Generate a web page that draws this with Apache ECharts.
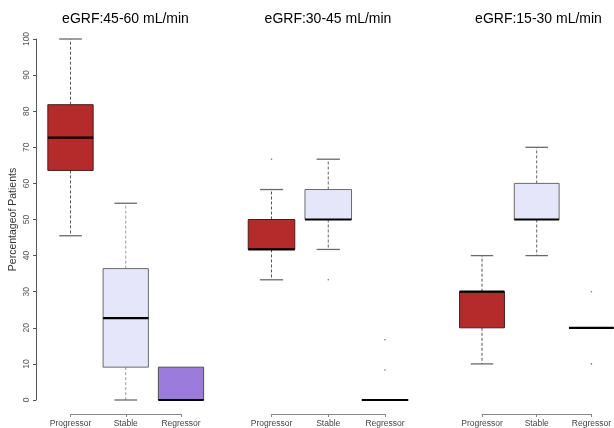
<!DOCTYPE html>
<html>
<head>
<meta charset="utf-8">
<script src="https://cdn.jsdelivr.net/npm/echarts@6/dist/echarts.min.js"></script>
<style>html,body{margin:0;padding:0;background:#fff}#c{width:614px;height:428px}</style>
</head>
<body>
<div id="c"></div>
<script>
// ---- data ----
const categories = ['Progressor', 'Stable', 'Regressor'];
const panelTitles = ['eGRF:45-60 mL/min', 'eGRF:30-45 mL/min', 'eGRF:15-30 mL/min'];
const yTitle = 'Percentageof Patients';
const yTicks = [0, 10, 20, 30, 40, 50, 60, 70, 80, 90, 100];
// each row: [lower whisker, Q1, median, Q3, upper whisker] per category
const stats45to60 = [[45.5, 63.6, 72.7, 81.8, 100], [0, 9.1, 22.7, 36.4, 54.5], [0, 0, 0, 9.1, 9.1]];
const stats30to45 = [[33.3, 41.7, 41.7, 50, 58.3], [41.7, 50, 50, 58.3, 66.7], [0, 0, 0, 0, 0]];
const stats15to30 = [[10, 20, 30, 30, 40], [40, 50, 50, 60, 70], [20, 20, 20, 20, 20]];
// outliers: [category index, value]
const outliers45to60 = [];
const outliers30to45 = [[0, 66.7], [1, 33.3], [2, 8.3], [2, 16.7]];
const outliers15to30 = [[2, 10], [2, 30]];

// ---- styles ----
const FONT = 'Liberation Sans, Arial, sans-serif';
const fills = ['#B52A2A', '#E6E6FA', '#9B7BDB'];
const borders = ['#4a1c1c', '#6a6a6a', '#505050'];
const whiskerCols = [['#555', '#9a9a9a', '#555'], ['#555', '#666', '#555'], ['#555', '#666', '#555']];
const grids = [
  { left: 70.5, width: 110.5, top: 39, height: 361 },
  { left: 271.5, width: 113.5, top: 39, height: 361 },
  { left: 482, width: 114, top: 39, height: 361 }
];
const titleX = [125.5, 328, 538.5];

const allStats = [stats45to60, stats30to45, stats15to30];
const allOut = [outliers45to60, outliers30to45, outliers15to30];

function makeRender(panel) {
  return function (params, api) {
    const x = api.value(0);
    const ci = Math.round(x);
    const lo = api.value(1), q1 = api.value(2), med = api.value(3), q3 = api.value(4), hi = api.value(5);
    const pLo = api.coord([x, lo]), pQ1 = api.coord([x, q1]), pMed = api.coord([x, med]);
    const pQ3 = api.coord([x, q3]), pHi = api.coord([x, hi]);
    let band = api.size([1, 0])[0];
    if (!band || !isFinite(band)) band = 55.5;
    const half = band * 0.41;
    const stp = half * 0.5;
    const cx = pMed[0];
    const wc = whiskerCols[panel][ci];
    const children = [];
    if (hi > q3) {
      children.push({ type: 'line', shape: { x1: cx, y1: pQ3[1], x2: cx, y2: pHi[1] }, style: { stroke: wc, lineWidth: 1, lineDash: [3, 2] } });
      children.push({ type: 'line', shape: { x1: cx - stp, y1: pHi[1], x2: cx + stp, y2: pHi[1] }, style: { stroke: '#6a6a6a', lineWidth: 1.3 } });
    }
    if (lo < q1) {
      children.push({ type: 'line', shape: { x1: cx, y1: pQ1[1], x2: cx, y2: pLo[1] }, style: { stroke: wc, lineWidth: 1, lineDash: [3, 2] } });
      children.push({ type: 'line', shape: { x1: cx - stp, y1: pLo[1], x2: cx + stp, y2: pLo[1] }, style: { stroke: '#6a6a6a', lineWidth: 1.3 } });
    }
    if (q3 > q1) {
      children.push({ type: 'rect', shape: { x: cx - half, y: pQ3[1], width: half * 2, height: pQ1[1] - pQ3[1] }, style: { fill: fills[ci], stroke: borders[ci], lineWidth: 1 } });
    }
    children.push({ type: 'line', shape: { x1: cx - half, y1: pMed[1], x2: cx + half, y2: pMed[1] }, style: { stroke: '#000', lineWidth: 2.2 } });
    return { type: 'group', children: children };
  };
}

const option = {
  animation: false,
  backgroundColor: '#fff',
  textStyle: { fontFamily: FONT },
  title: panelTitles.map((t, i) => ({
    text: t, left: titleX[i], top: 12, padding: 0, textAlign: 'center',
    textStyle: { fontFamily: FONT, fontSize: 14, fontWeight: 'normal', color: '#000' }
  })),
  grid: grids,
  xAxis: grids.map((g, i) => ({
    type: 'category', gridIndex: i, data: categories, boundaryGap: false, offset: 14,
    axisLine: { onZero: false, lineStyle: { color: '#888', width: 1 } },
    axisTick: { show: true, length: 3, alignWithLabel: true, lineStyle: { color: '#888' } },
    axisLabel: { color: '#444', fontSize: 8.5, fontFamily: FONT, margin: 5, interval: 0 },
    splitLine: { show: false }
  })),
  yAxis: grids.map((g, i) => ({
    type: 'value', gridIndex: i, min: yTicks[0], max: yTicks[yTicks.length - 1], interval: 10,
    show: i === 0, offset: 34.5,
    name: i === 0 ? yTitle : '', nameLocation: 'middle', nameGap: 17, nameMoveOverlap: false,
    nameTextStyle: { fontSize: 10.5, color: '#333', fontFamily: FONT },
    axisLine: { show: true, onZero: false, lineStyle: { color: '#555', width: 1 } },
    axisTick: { show: true, length: 3, lineStyle: { color: '#555' } },
    axisLabel: { rotate: 90, color: '#555', fontSize: 8.5, fontFamily: FONT, margin: 5 },
    splitLine: { show: false }
  })),
  series: []
};

allStats.forEach((st, i) => {
  option.series.push({
    type: 'custom', xAxisIndex: i, yAxisIndex: i,
    renderItem: makeRender(i),
    encode: { x: 0, y: [1, 2, 3, 4, 5] },
    data: st.map((r, k) => [k].concat(r)),
    clip: false, silent: true
  });
  option.series.push({
    type: 'scatter', xAxisIndex: i, yAxisIndex: i,
    symbol: 'circle', symbolSize: 1.6,
    itemStyle: { color: '#555' },
    data: allOut[i], silent: true
  });
});

const chart = echarts.init(document.getElementById('c'), null, { renderer: 'canvas' });
chart.setOption(option);
</script>
</body>
</html>
